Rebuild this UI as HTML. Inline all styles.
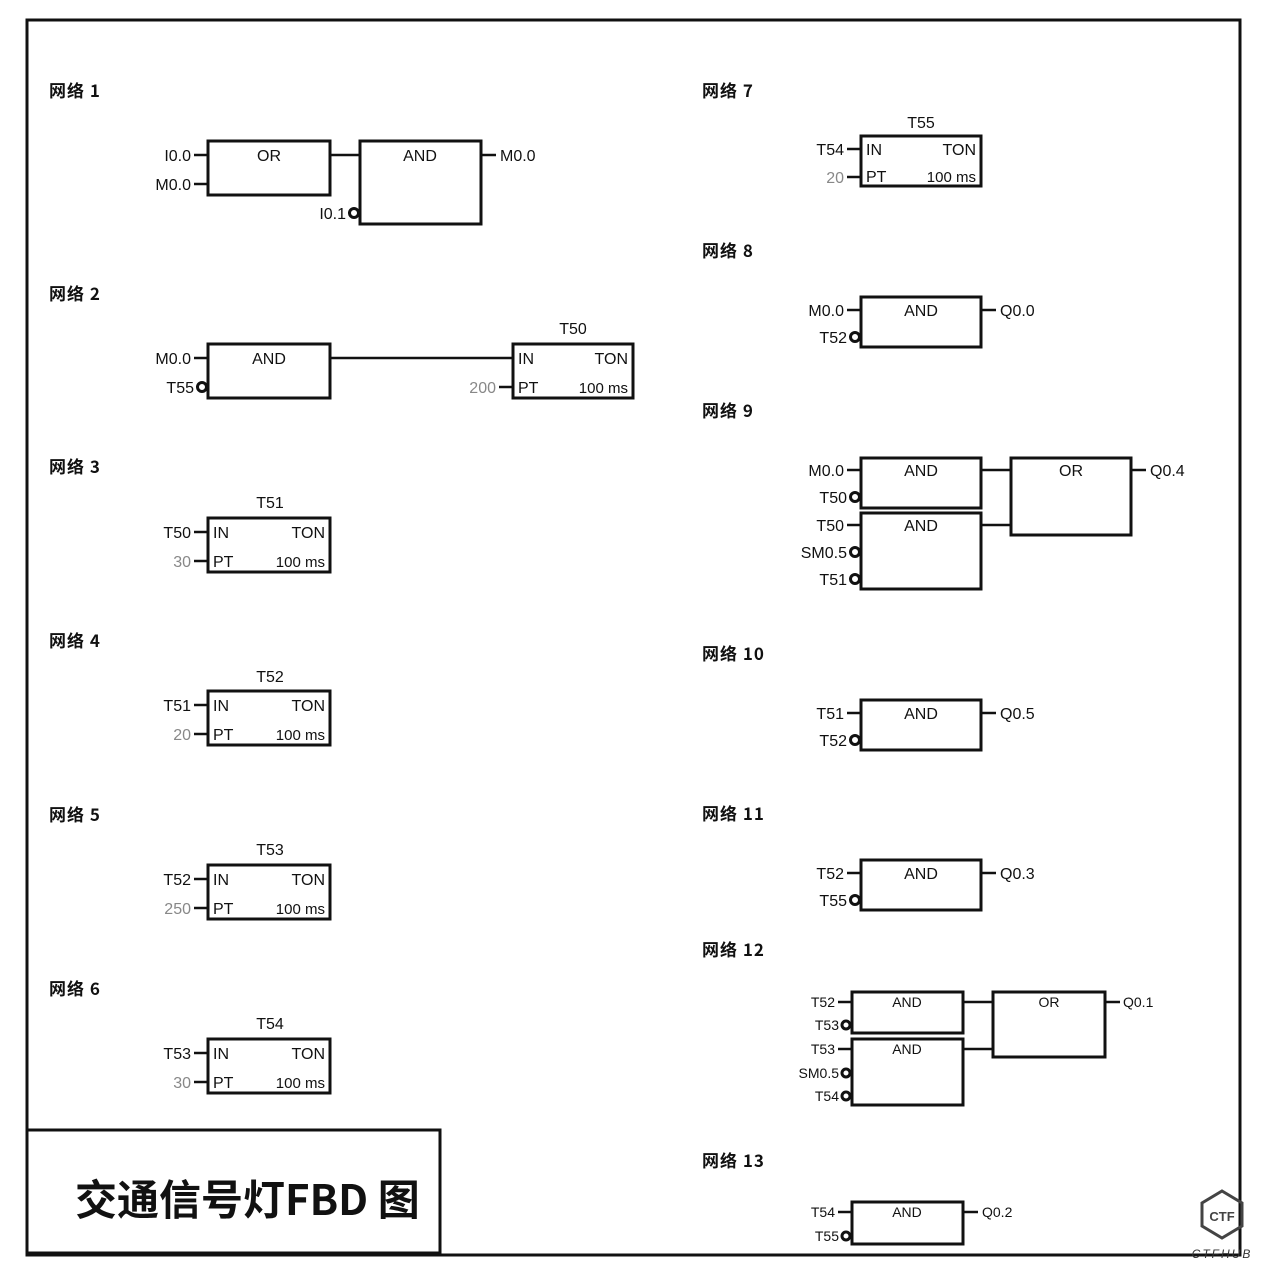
<!DOCTYPE html>
<html><head><meta charset="utf-8"><style>
html,body{margin:0;padding:0;background:#fff}
svg{display:block}
text{font-family:"Liberation Sans","Noto Sans CJK SC",sans-serif;fill:#111}
.l{font-size:16px;text-anchor:end}
.c{font-size:16px;text-anchor:middle}
.g{fill:#888}
.h{font-size:17px;font-weight:bold;font-family:"Noto Sans CJK SC","Liberation Sans",sans-serif;letter-spacing:1px}
rect{fill:none;stroke:#111;stroke-width:3}
line{stroke:#111;stroke-width:2.5}
circle{fill:#fff;stroke:#111;stroke-width:3}
</style></head><body>
<svg width="1269" height="1269" viewBox="0 0 1269 1269" xmlns="http://www.w3.org/2000/svg">
<rect x="0" y="0" width="1269" height="1269" style="fill:#fff;stroke:none"/>
<rect x="27" y="20" width="1213" height="1235"/>

<text class="h" x="49" y="97">网络 1</text>
<text class="h" x="49" y="300">网络 2</text>
<text class="h" x="49" y="473">网络 3</text>
<text class="h" x="49" y="647">网络 4</text>
<text class="h" x="49" y="821">网络 5</text>
<text class="h" x="49" y="995">网络 6</text>
<text class="h" x="702" y="97">网络 7</text>
<text class="h" x="702" y="257">网络 8</text>
<text class="h" x="702" y="417">网络 9</text>
<text class="h" x="702" y="660">网络 10</text>
<text class="h" x="702" y="820">网络 11</text>
<text class="h" x="702" y="956">网络 12</text>
<text class="h" x="702" y="1167">网络 13</text>

<!-- Net 1 -->
<rect x="208" y="141" width="122" height="54"/>
<text class="c" x="269" y="161">OR</text>
<line x1="194" y1="155" x2="208" y2="155"/><text class="l" x="191" y="161">I0.0</text>
<line x1="194" y1="184" x2="208" y2="184"/><text class="l" x="191" y="190">M0.0</text>
<line x1="330" y1="155" x2="360" y2="155"/>
<rect x="360" y="141" width="121" height="83"/>
<text class="c" x="420" y="161">AND</text>
<line x1="481" y1="155" x2="496" y2="155"/><text x="500" y="161" style="font-size:16px">M0.0</text>
<circle cx="354" cy="213" r="4.5"/><text class="l" x="346" y="219">I0.1</text>

<!-- Net 2 -->
<rect x="208" y="344" width="122" height="54"/>
<text class="c" x="269" y="364">AND</text>
<line x1="194" y1="358" x2="208" y2="358"/><text class="l" x="191" y="364">M0.0</text>
<circle cx="202" cy="387" r="4.5"/><text class="l" x="194" y="393">T55</text>
<line x1="330" y1="358" x2="513" y2="358"/>
<rect x="513" y="344" width="120" height="54"/>
<text class="c" x="573" y="334">T50</text>
<text x="518" y="364" style="font-size:16px">IN</text><text x="628" y="364" style="font-size:16px;text-anchor:end">TON</text>
<text x="518" y="393" style="font-size:16px">PT</text><text x="628" y="393" style="font-size:15px;text-anchor:end">100 ms</text>
<line x1="499" y1="387" x2="513" y2="387"/><text class="l g" x="496" y="393">200</text>

<g>
<rect x="208" y="518" width="122" height="54"/><text class="c" x="270" y="508">T51</text>
<text x="213" y="538" style="font-size:16px">IN</text><text x="325" y="538" style="font-size:16px;text-anchor:end">TON</text>
<text x="213" y="567" style="font-size:16px">PT</text><text x="325" y="567" style="font-size:15px;text-anchor:end">100 ms</text>
<line x1="194" y1="532" x2="208" y2="532"/><text class="l" x="191" y="538">T50</text>
<line x1="194" y1="561" x2="208" y2="561"/><text class="l g" x="191" y="567">30</text>
</g>
<g>
<rect x="208" y="691" width="122" height="54"/><text class="c" x="270" y="682">T52</text>
<text x="213" y="711" style="font-size:16px">IN</text><text x="325" y="711" style="font-size:16px;text-anchor:end">TON</text>
<text x="213" y="740" style="font-size:16px">PT</text><text x="325" y="740" style="font-size:15px;text-anchor:end">100 ms</text>
<line x1="194" y1="705" x2="208" y2="705"/><text class="l" x="191" y="711">T51</text>
<line x1="194" y1="734" x2="208" y2="734"/><text class="l g" x="191" y="740">20</text>
</g>
<g>
<rect x="208" y="865" width="122" height="54"/><text class="c" x="270" y="855">T53</text>
<text x="213" y="885" style="font-size:16px">IN</text><text x="325" y="885" style="font-size:16px;text-anchor:end">TON</text>
<text x="213" y="914" style="font-size:16px">PT</text><text x="325" y="914" style="font-size:15px;text-anchor:end">100 ms</text>
<line x1="194" y1="879" x2="208" y2="879"/><text class="l" x="191" y="885">T52</text>
<line x1="194" y1="908" x2="208" y2="908"/><text class="l g" x="191" y="914">250</text>
</g>
<g>
<rect x="208" y="1039" width="122" height="54"/><text class="c" x="270" y="1029">T54</text>
<text x="213" y="1059" style="font-size:16px">IN</text><text x="325" y="1059" style="font-size:16px;text-anchor:end">TON</text>
<text x="213" y="1088" style="font-size:16px">PT</text><text x="325" y="1088" style="font-size:15px;text-anchor:end">100 ms</text>
<line x1="194" y1="1053" x2="208" y2="1053"/><text class="l" x="191" y="1059">T53</text>
<line x1="194" y1="1082" x2="208" y2="1082"/><text class="l g" x="191" y="1088">30</text>
</g>

<!-- Net 7 -->
<rect x="861" y="136" width="120" height="50"/><text class="c" x="921" y="128">T55</text>
<text x="866" y="155" style="font-size:16px">IN</text><text x="976" y="155" style="font-size:16px;text-anchor:end">TON</text>
<text x="866" y="182" style="font-size:16px">PT</text><text x="976" y="182" style="font-size:15px;text-anchor:end">100 ms</text>
<line x1="847" y1="149" x2="861" y2="149"/><text class="l" x="844" y="155">T54</text>
<line x1="847" y1="177" x2="861" y2="177"/><text class="l g" x="844" y="183">20</text>

<!-- Net 8 -->
<rect x="861" y="297" width="120" height="50"/><text class="c" x="921" y="316">AND</text>
<line x1="847" y1="310" x2="861" y2="310"/><text class="l" x="844" y="316">M0.0</text>
<circle cx="855" cy="337" r="4.5"/><text class="l" x="847" y="343">T52</text>
<line x1="981" y1="310" x2="996" y2="310"/><text x="1000" y="316" style="font-size:16px">Q0.0</text>

<!-- Net 9 -->
<rect x="861" y="458" width="120" height="50"/><text class="c" x="921" y="476">AND</text>
<line x1="847" y1="470" x2="861" y2="470"/><text class="l" x="844" y="476">M0.0</text>
<circle cx="855" cy="497" r="4.5"/><text class="l" x="847" y="503">T50</text>
<rect x="861" y="513" width="120" height="76"/><text class="c" x="921" y="531">AND</text>
<line x1="847" y1="525" x2="861" y2="525"/><text class="l" x="844" y="531">T50</text>
<circle cx="855" cy="552" r="4.5"/><text class="l" x="847" y="558">SM0.5</text>
<circle cx="855" cy="579" r="4.5"/><text class="l" x="847" y="585">T51</text>
<line x1="981" y1="470" x2="1011" y2="470"/><line x1="981" y1="525" x2="1011" y2="525"/>
<rect x="1011" y="458" width="120" height="77"/><text class="c" x="1071" y="476">OR</text>
<line x1="1131" y1="470" x2="1146" y2="470"/><text x="1150" y="476" style="font-size:16px">Q0.4</text>

<!-- Net 10 -->
<rect x="861" y="700" width="120" height="50"/><text class="c" x="921" y="719">AND</text>
<line x1="847" y1="713" x2="861" y2="713"/><text class="l" x="844" y="719">T51</text>
<circle cx="855" cy="740" r="4.5"/><text class="l" x="847" y="746">T52</text>
<line x1="981" y1="713" x2="996" y2="713"/><text x="1000" y="719" style="font-size:16px">Q0.5</text>

<!-- Net 11 -->
<rect x="861" y="860" width="120" height="50"/><text class="c" x="921" y="879">AND</text>
<line x1="847" y1="873" x2="861" y2="873"/><text class="l" x="844" y="879">T52</text>
<circle cx="855" cy="900" r="4.5"/><text class="l" x="847" y="906">T55</text>
<line x1="981" y1="873" x2="996" y2="873"/><text x="1000" y="879" style="font-size:16px">Q0.3</text>

<!-- Net 12 -->
<rect x="852" y="992" width="111" height="41"/><text x="907" y="1007" style="font-size:14px;text-anchor:middle">AND</text>
<line x1="838" y1="1002" x2="852" y2="1002"/><text x="835" y="1007" style="font-size:14px;text-anchor:end">T52</text>
<circle cx="846" cy="1025" r="4"/><text x="839" y="1030" style="font-size:14px;text-anchor:end">T53</text>
<rect x="852" y="1039" width="111" height="66"/><text x="907" y="1054" style="font-size:14px;text-anchor:middle">AND</text>
<line x1="838" y1="1049" x2="852" y2="1049"/><text x="835" y="1054" style="font-size:14px;text-anchor:end">T53</text>
<circle cx="846" cy="1073" r="4"/><text x="839" y="1078" style="font-size:14px;text-anchor:end">SM0.5</text>
<circle cx="846" cy="1096" r="4"/><text x="839" y="1101" style="font-size:14px;text-anchor:end">T54</text>
<line x1="963" y1="1002" x2="993" y2="1002"/><line x1="963" y1="1049" x2="993" y2="1049"/>
<rect x="993" y="992" width="112" height="65"/><text x="1049" y="1007" style="font-size:14px;text-anchor:middle">OR</text>
<line x1="1105" y1="1002" x2="1120" y2="1002"/><text x="1123" y="1007" style="font-size:14px">Q0.1</text>

<!-- Net 13 -->
<rect x="852" y="1202" width="111" height="42"/><text x="907" y="1217" style="font-size:14px;text-anchor:middle">AND</text>
<line x1="838" y1="1212" x2="852" y2="1212"/><text x="835" y="1217" style="font-size:14px;text-anchor:end">T54</text>
<circle cx="846" cy="1236" r="4"/><text x="839" y="1241" style="font-size:14px;text-anchor:end">T55</text>
<line x1="963" y1="1212" x2="978" y2="1212"/><text x="982" y="1217" style="font-size:14px">Q0.2</text>

<!-- title box -->
<rect x="27" y="1130" width="413" height="123"/>
<text x="75" y="1215" style="font-size:42px;font-weight:bold;font-family:'Noto Sans CJK SC',sans-serif">交通信号灯FBD 图</text>

<!-- logo -->
<polygon points="1222,1191 1242,1203 1242,1226 1222,1238 1202,1226 1202,1203" style="fill:none;stroke:#444;stroke-width:3"/>
<text x="1222" y="1221" style="font-size:13px;font-weight:bold;text-anchor:middle;fill:#444">CTF</text>
<text x="1222" y="1258" style="font-size:12px;font-style:italic;text-anchor:middle;fill:#333;letter-spacing:2px">CTFHUB</text>
</svg>
</body></html>
